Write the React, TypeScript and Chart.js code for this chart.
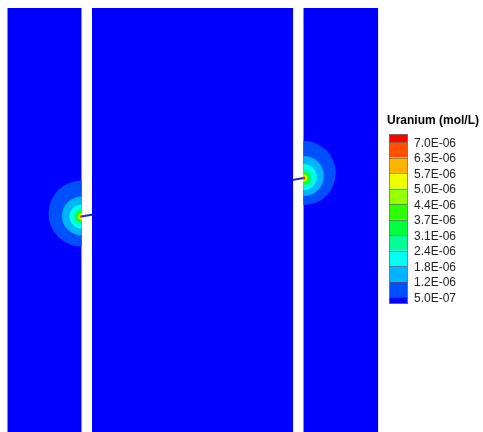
import React, { useEffect, useRef } from "react";
import { Chart, registerables } from "chart.js";

Chart.register(...registerables);

// ---- data (model units, domain 0..483 x 0..432, y measured downward) ----
const bandStarts = [7.3, 92, 303.3];
const bandEnds = [81.7, 293.3, 378.3];
const bandTop = 8;
const bandBottom = 440;

// contour levels (mol/L) and their tick labels, low to high
const levels = [5.0e-7, 1.2e-6, 1.8e-6, 2.4e-6, 3.1e-6, 3.7e-6, 4.4e-6, 5.0e-6, 5.7e-6, 6.3e-6, 7.0e-6];
const levelLabels = ["5.0E-07", "1.2E-06", "1.8E-06", "2.4E-06", "3.1E-06", "3.7E-06", "4.4E-06", "5.0E-06", "5.7E-06", "6.3E-06", "7.0E-06"];
// colour of the band above each level (index 0 = below the lowest level)
const levelColors = ["#0000ff", "#0050ff", "#00b4ff", "#00ffee", "#00ff96", "#00ff3c", "#2dff00", "#96ff00", "#f0ff00", "#ffb400", "#ff5000", "#ff0000"];

// hotspots: source location, band index, and contour radius per level
const leftSource = { x: 81.5, y: 216.5, band: 0 };
const rightSource = { x: 303.8, y: 178, band: 2 };
const leftRadii = [33, 19.5, 12, 8, 6, 4.6, 3.6, 2.7, 2.0, 1.4, 0.9];
const leftCenterY = [213.5, 216, 216.5, 216.5, 216.5, 216.5, 216.5, 216.5, 216.5, 216.5, 216.5];
const rightRadii = [32, 20, 13, 8.5, 6.2, 4.8, 3.7, 2.8, 2.0, 1.4, 0.9];
const rightCenterY = [173, 176, 177, 178, 178, 178, 178, 178, 178, 178, 178];

const FONT = "'Liberation Sans', Arial, Helvetica, sans-serif";

const bandClip = {
  id: "bandClip",
  beforeDatasetDraw(chart: any, args: any) {
    const ds = chart.data.datasets[args.index];
    if (ds.bandIndex === undefined) return;
    const xs = chart.scales.x;
    const ys = chart.scales.y;
    const x0 = xs.getPixelForValue(bandStarts[ds.bandIndex]);
    const x1 = xs.getPixelForValue(bandEnds[ds.bandIndex]);
    const y0 = ys.getPixelForValue(bandTop);
    const y1 = ys.getPixelForValue(bandBottom);
    const ctx = chart.ctx;
    ctx.save();
    ctx.beginPath();
    ctx.rect(Math.min(x0, x1), Math.min(y0, y1), Math.abs(x1 - x0), Math.abs(y1 - y0));
    ctx.clip();
  },
  afterDatasetDraw(chart: any, args: any) {
    const ds = chart.data.datasets[args.index];
    if (ds.bandIndex === undefined) return;
    chart.ctx.restore();
  },
};

const colorBar = {
  id: "colorBar",
  afterDraw(chart: any) {
    const ctx = chart.ctx;
    const left = 389;
    const width = 19;
    const top = 134;
    const half = 8;
    const step = 15.5;
    ctx.save();
    ctx.fillStyle = "#000";
    ctx.font = `bold 12px ${FONT}`;
    ctx.textBaseline = "middle";
    ctx.textAlign = "left";
    ctx.fillText("Uranium (mol/L)", 387, 120.5);
    // boxes top to bottom: highest colour first
    const n = levelColors.length;
    const bounds: number[] = [top];
    for (let i = 0; i < n - 1; i++) bounds.push(top + half + i * step);
    bounds.push(top + half * 2 + (n - 2) * step - 1);
    for (let i = 0; i < n; i++) {
      ctx.fillStyle = levelColors[n - 1 - i];
      ctx.fillRect(left, bounds[i], width, bounds[i + 1] - bounds[i]);
    }
    ctx.strokeStyle = "rgba(90,90,90,0.55)";
    ctx.lineWidth = 1;
    for (let i = 1; i < n; i++) {
      ctx.beginPath();
      ctx.moveTo(left, Math.round(bounds[i]) + 0.5);
      ctx.lineTo(left + width, Math.round(bounds[i]) + 0.5);
      ctx.stroke();
    }
    ctx.strokeStyle = "rgba(120,120,120,0.8)";
    ctx.strokeRect(left + 0.5, top + 0.5, width - 1, bounds[n] - top - 1);
    ctx.fillStyle = "#222";
    ctx.font = `12px ${FONT}`;
    for (let i = 0; i < levelLabels.length; i++) {
      const label = levelLabels[levelLabels.length - 1 - i];
      ctx.fillText(label, 414, bounds[i + 1] + 1.5);
    }
    ctx.restore();
  },
};

export default function App() {
  const ref = useRef<HTMLCanvasElement | null>(null);
  useEffect(() => {
    if (!ref.current) return;
    const datasets: any[] = [];
    // fracture line joining the two sources (beneath the rock bands)
    datasets.push({
      type: "line",
      data: [
        { x: leftSource.x, y: leftSource.y },
        { x: rightSource.x, y: rightSource.y },
      ],
      borderColor: "#1b2fb5",
      borderWidth: 2,
      pointRadius: 0,
      fill: false,
      order: 100,
    });
    bandStarts.forEach((x0, i) => {
      datasets.push({
        type: "line",
        data: [
          { x: x0, y: bandTop },
          { x: bandEnds[i], y: bandTop },
        ],
        borderWidth: 0,
        borderColor: "rgba(0,0,0,0)",
        pointRadius: 0,
        backgroundColor: levelColors[0],
        fill: { value: bandBottom },
        order: 90,
      });
    });
    const addSpot = (src: any, radii: number[], cys: number[]) => {
      levels.forEach((lv, k) => {
        datasets.push({
          type: "scatter",
          label: String(lv),
          bandIndex: src.band,
          data: [{ x: src.x, y: cys[k], rad: radii[k] }],
          pointBackgroundColor: levelColors[k + 1],
          pointBorderWidth: 0,
          pointBorderColor: "rgba(0,0,0,0)",
          pointRadius: (c: any) => {
            const xs = c.chart.scales.x;
            const raw = c.raw;
            if (!raw) return 0;
            return Math.abs(xs.getPixelForValue(raw.x + raw.rad) - xs.getPixelForValue(raw.x));
          },
          order: 50 - k,
        });
      });
    };
    addSpot(leftSource, leftRadii, leftCenterY);
    addSpot(rightSource, rightRadii, rightCenterY);

    const chart = new Chart(ref.current, {
      type: "scatter",
      data: { datasets },
      options: {
        animation: false,
        responsive: false,
        events: [],
        layout: { padding: 0 },
        scales: {
          x: { type: "linear", min: 0, max: 483, display: false },
          y: { type: "linear", min: 0, max: 432, reverse: true, display: false },
        },
        plugins: {
          legend: { display: false },
          tooltip: { enabled: false },
          title: { display: false },
        },
      } as any,
      plugins: [bandClip, colorBar],
    });
    return () => chart.destroy();
  }, []);
  return (
    <div style={{ position: "fixed", left: 0, top: 0, width: 483, height: 432, background: "#fff" }}>
      <canvas ref={ref} width={483} height={432} style={{ display: "block", width: 483, height: 432 }} />
    </div>
  );
}
